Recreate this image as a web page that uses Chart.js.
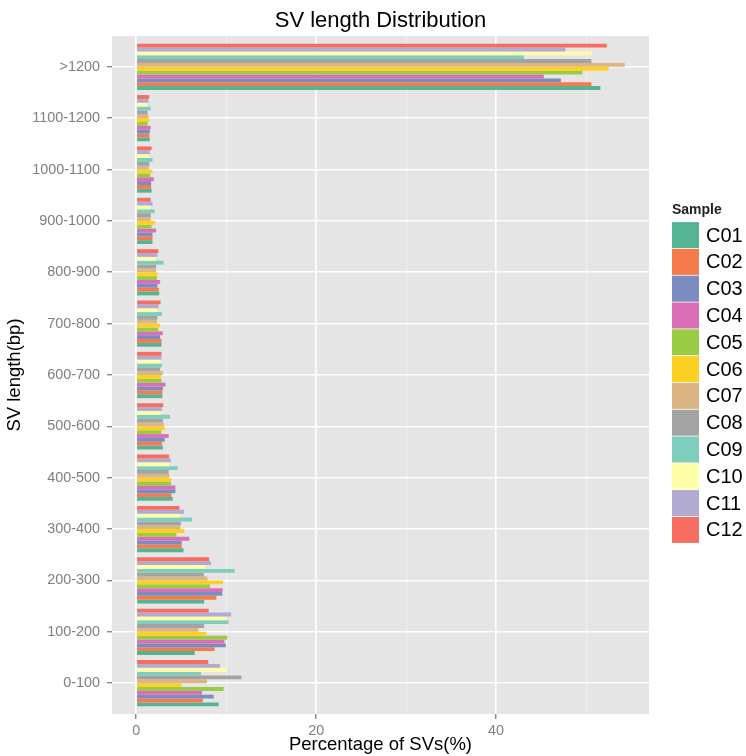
<!DOCTYPE html>
<html>
<head>
<meta charset="utf-8">
<script src="https://cdn.jsdelivr.net/npm/chart.js@4/dist/chart.umd.min.js"></script>
<style>
  html, body { margin: 0; padding: 0; background: #fff; }
  #wrap { width: 746px; height: 756px; }
</style>
</head>
<body>
<div id="wrap"><canvas id="chart"></canvas></div>
<script>
// categories, bottom to top
const lengths = ['0-100', '100-200', '200-300', '300-400', '400-500', '500-600', '600-700',
  '700-800', '800-900', '900-1000', '1000-1100', '1100-1200', '>1200'];
const samples = ['C01', 'C02', 'C03', 'C04', 'C05', 'C06', 'C07', 'C08', 'C09', 'C10', 'C11', 'C12'];

// percentage of SVs per length bin, one array per sample
const C01 = [9.15, 6.5, 7.55, 5.25, 4.05, 2.95, 2.9, 2.8, 2.55, 1.8, 1.7, 1.5, 51.6];
const C02 = [7.4, 8.7, 8.9, 5.05, 3.9, 2.85, 2.9, 2.8, 2.5, 1.8, 1.65, 1.45, 50.6];
const C03 = [8.6, 9.95, 9.55, 5.05, 4.35, 3.15, 2.95, 2.65, 2.35, 1.8, 1.65, 1.5, 47.2];
const C04 = [7.3, 9.8, 9.6, 5.9, 4.35, 3.6, 3.25, 2.95, 2.65, 2.2, 1.95, 1.6, 45.3];
const C05 = [9.7, 10.1, 8.2, 4.45, 3.85, 2.8, 2.8, 2.45, 2.3, 1.7, 1.55, 1.25, 49.6];
const C06 = [5.0, 7.8, 9.65, 5.35, 3.9, 3.15, 2.75, 2.65, 2.35, 2.1, 1.8, 1.45, 52.5];
const C07 = [7.85, 6.9, 7.9, 4.9, 3.65, 3.05, 2.95, 2.3, 2.2, 1.6, 1.4, 1.35, 54.3];
const C08 = [11.7, 7.55, 7.5, 4.95, 3.6, 2.95, 2.65, 2.35, 2.2, 1.6, 1.45, 1.25, 50.6];
const C09 = [7.2, 10.25, 10.95, 6.2, 4.6, 3.75, 2.85, 2.85, 3.05, 2.05, 1.8, 1.6, 43.1];
const C10 = [10.0, 10.0, 7.7, 4.8, 3.65, 2.7, 2.75, 2.35, 2.15, 1.5, 1.4, 1.2, 50.7];
const C11 = [9.3, 10.55, 8.3, 5.3, 3.85, 2.85, 2.8, 2.5, 2.35, 1.8, 1.5, 1.35, 47.7];
const C12 = [8.0, 8.05, 8.1, 4.8, 3.65, 3.0, 2.8, 2.7, 2.45, 1.6, 1.7, 1.45, 52.3];
const series = [C01, C02, C03, C04, C05, C06, C07, C08, C09, C10, C11, C12];

const colors = ['#55b494', '#f57a4e', '#7a8cc0', '#db6fb7', '#99cc44', '#fdd124',
  '#dcb584', '#a3a3a3', '#7ecdbd', '#ffffaa', '#b1abd2', '#f76d62'];

const xTicks = [0, 10, 20, 30, 40, 50];

Chart.defaults.font.family = "'Liberation Sans', Arial, sans-serif";

// ggplot puts C01 at the bottom of each group, chart.js puts dataset 0 on top
const datasets = samples.map((s, i) => ({
  label: s,
  data: series[i].map((v, j) => ({ x: v, y: j })),
  backgroundColor: colors[i],
  borderWidth: 0,
  categoryPercentage: 0.9,
  barPercentage: 1
})).reverse();

const panelBg = {
  id: 'panelBg',
  beforeDraw(chart) {
    const { ctx, chartArea: a } = chart;
    ctx.save();
    ctx.fillStyle = '#e5e5e5';
    ctx.fillRect(a.left, a.top, a.right - a.left, a.bottom - a.top);
    ctx.restore();
  }
};

const sideLegend = {
  id: 'sideLegend',
  afterDraw(chart) {
    const ctx = chart.ctx;
    const x = 672, top = 221.7, h = 26.8;
    ctx.save();
    ctx.fillStyle = '#222';
    ctx.font = "bold 14px 'Liberation Sans', Arial, sans-serif";
    ctx.textBaseline = 'middle';
    ctx.textAlign = 'left';
    ctx.fillText('Sample', x, 210);
    ctx.font = "20px 'Liberation Sans', Arial, sans-serif";
    samples.forEach((s, i) => {
      const y = top + i * h;
      ctx.fillStyle = colors[i];
      ctx.fillRect(x, y + 0.4, 27, h - 0.8);
      ctx.fillStyle = '#000';
      ctx.fillText(s, 706, y + h / 2 + 1);
    });
    ctx.restore();
  }
};

new Chart(document.getElementById('chart'), {
  type: 'bar',
  data: { datasets },
  options: {
    indexAxis: 'y',
    responsive: true,
    maintainAspectRatio: false,
    animation: false,
    layout: { padding: { top: 0, right: 97, bottom: 0, left: 0 } },
    plugins: {
      legend: { display: false },
      tooltip: { enabled: false },
      title: {
        display: true,
        text: 'SV length Distribution',
        fullSize: false,
        color: '#000',
        font: { size: 22, weight: 'normal' },
        padding: { top: 8, bottom: 1.6 }
      }
    },
    scales: {
      x: {
        type: 'linear',
        min: -2.7,
        max: 57,
        offset: false,
        afterBuildTicks: s => { s.ticks = xTicks.map(v => ({ value: v })); },
        afterFit: s => { s.height = 42; },
        border: { display: false },
        grid: {
          offset: false,
          color: c => (c.tick && c.tick.value % 20 === 0) ? '#ffffff' : '#f2f2f2',
          lineWidth: c => (c.tick && c.tick.value % 20 === 0) ? 1.6 : 0.8,
          tickColor: c => (c.tick && c.tick.value % 20 === 0) ? '#555' : 'rgba(0,0,0,0)',
          tickLength: 5,
          tickWidth: 1
        },
        ticks: {
          callback: v => v % 20 === 0 ? String(v) : '',
          color: '#7f7f7f',
          font: { size: 14.4 },
          padding: 3,
          maxRotation: 0,
          autoSkip: false
        },
        title: {
          display: true,
          text: 'Percentage of SVs(%)',
          color: '#000',
          font: { size: 18.5 },
          padding: 0
        }
      },
      y: {
        type: 'linear',
        min: -0.6,
        max: 12.6,
        offset: false,
        afterBuildTicks: s => { s.ticks = lengths.map((_, i) => ({ value: i })); },
        afterFit: s => { s.width = 112; },
        border: { display: false },
        grid: {
          offset: false,
          color: '#ffffff',
          lineWidth: 1.6,
          tickColor: '#555',
          tickLength: 5,
          tickWidth: 1
        },
        ticks: {
          callback: v => lengths[v],
          color: '#7f7f7f',
          font: { size: 14.4 },
          padding: 7,
          autoSkip: false
        },
        title: {
          display: true,
          text: 'SV length(bp)',
          color: '#000',
          font: { size: 18.5 },
          padding: { top: 4, bottom: 0 }
        }
      }
    }
  },
  plugins: [panelBg, sideLegend]
});
</script>
</body>
</html>
